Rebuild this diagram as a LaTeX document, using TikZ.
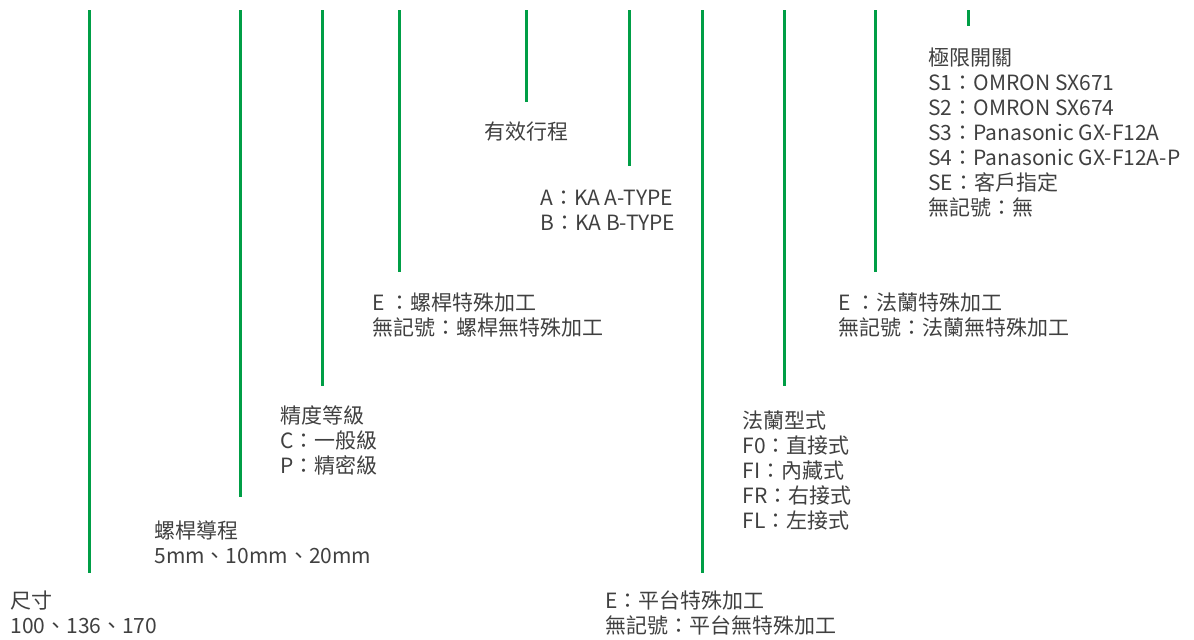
\documentclass[tikz,border=0pt]{standalone}
\usepackage{fontspec}
\setmainfont{Noto Sans CJK TC}
\definecolor{linegreen}{RGB}{0,158,70}
\definecolor{textgray}{RGB}{64,64,64}

\begin{document}
\begin{tikzpicture}[x=0.5pt,y=-0.5pt,
		greenline/.style={draw=linegreen, line width=1.5pt},
		codelabel/.style={anchor=north west, inner sep=0pt, align=left, text=textgray, font=\fontsize{10.5}{12.5}\selectfont}]
		\useasboundingbox (0,0) rectangle (1194,639);

		% code labels, left to right
		\draw (10,590) node[codelabel] (size) {尺寸\\100、136、170};
		\draw (154,520) node[codelabel] (lead) {螺桿導程\\5mm、10mm、20mm};
		\draw (280,405) node[codelabel] (grade) {精度等級\\C：一般級\\P：精密級};
		\draw (372,292) node[codelabel] (screwE) {E ：螺桿特殊加工\\無記號：螺桿無特殊加工};
		\draw (484,121) node[codelabel] (stroke) {有效行程};
		\draw (540,190) node[codelabel] (ktype) {A：KA A-TYPE\\B：KA B-TYPE};
		\draw (605,590) node[codelabel] (tableE) {E：平台特殊加工\\無記號：平台無特殊加工};
		\draw (742,410) node[codelabel] (flange) {法蘭型式\\F0：直接式\\FI：內藏式\\FR：右接式\\FL：左接式};
		\draw (838,292) node[codelabel] (flangeE) {E ：法蘭特殊加工\\無記號：法蘭無特殊加工};
		\draw (928,47) node[codelabel] (limit) {極限開關\\S1：OMRON SX671\\S2：OMRON SX674\\S3：Panasonic GX-F12A\\S4：Panasonic GX-F12A-P\\SE：客戶指定\\無記號：無};

		% lead lines
		\coordinate (top1) at (89,10);   \coordinate (bot1) at (89,573);
		\coordinate (top2) at (240,10);  \coordinate (bot2) at (240,497);
		\coordinate (top3) at (322,10);  \coordinate (bot3) at (322,386);
		\coordinate (top4) at (399,10);  \coordinate (bot4) at (399,272);
		\coordinate (top5) at (526,10);  \coordinate (bot5) at (526,102);
		\coordinate (top6) at (629,10);  \coordinate (bot6) at (629,166);
		\coordinate (top7) at (702,10);  \coordinate (bot7) at (702,573);
		\coordinate (top8) at (784,10);  \coordinate (bot8) at (784,386);
		\coordinate (top9) at (875,10);  \coordinate (bot9) at (875,272);
		\coordinate (top10) at (968,10); \coordinate (bot10) at (968,26);

		\foreach \i in {1,...,10}
			\draw [greenline] (top\i) -- (bot\i);
	\end{tikzpicture}
\end{document}
